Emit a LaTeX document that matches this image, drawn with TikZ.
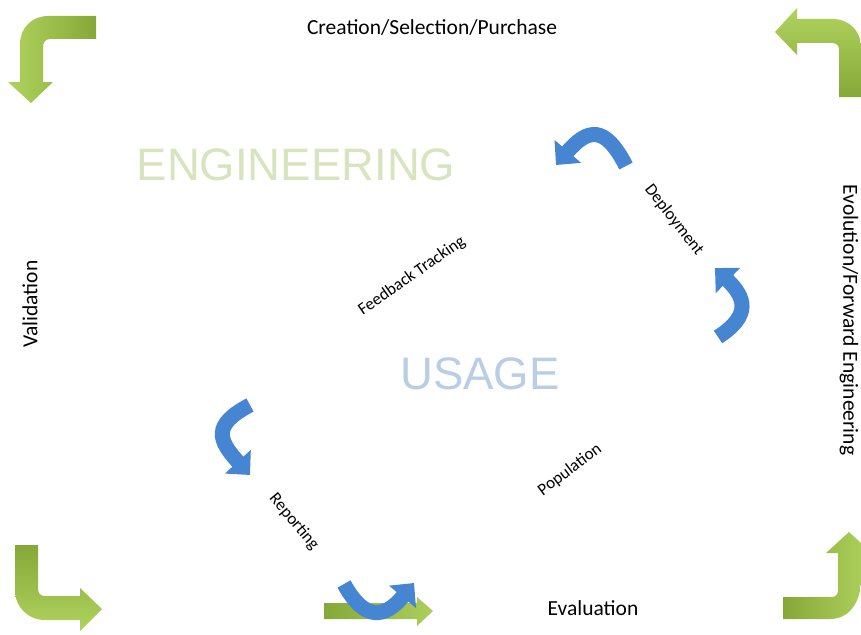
\documentclass[tikz,border=0pt]{standalone}
\usepackage{fontspec}
\setmainfont{Carlito}
\newfontfamily\bigfont{Liberation Sans}
\usetikzlibrary{arrows.meta}
\definecolor{glight}{HTML}{B0D35E}
\definecolor{gdark}{HTML}{86A838}
\definecolor{bluearr}{HTML}{4585D2}
\definecolor{engc}{HTML}{D7E4BD}
\definecolor{usec}{HTML}{B9CDE5}
\tikzset{
  lbl/.style={inner sep=0pt, font=\fontsize{21.5}{26}\selectfont, text=black},
  slbl/.style={inner sep=0pt, font=\fontsize{17}{20}\selectfont, text=black},
  big/.style={inner sep=0pt, font=\bigfont\fontsize{45.5}{52}\selectfont},
  barrow/.style={draw=bluearr, line width=15pt, line cap=butt,
    -{Triangle[width=34pt,length=18pt]}},
}
\begin{document}
\begin{tikzpicture}[x=1pt,y=-1pt]
\useasboundingbox (0,0) rectangle (861,634);
\clip (0,0) rectangle (861,634);
% green corner arrows
\path[left color=glight, right color=gdark]
  (96,16) -- (48,16) .. controls (32,16) and (20,28) .. (20,44) -- (20,82)
  -- (8,82) -- (31,103) -- (53,82) -- (43,82) -- (43,47)
  .. controls (43,43) and (45,39) .. (50,39) -- (96,39) -- cycle;
\path[top color=glight, bottom color=gdark]
  (775,32) -- (797,8) -- (797,19) -- (833,19)
  .. controls (849,19) and (861,31) .. (861,47) -- (861,97) -- (839,97)
  -- (839,50) .. controls (839,46) and (837,43) .. (832,43) -- (797,43)
  -- (797,55) -- cycle;
\path[top color=gdark, bottom color=glight]
  (15,545) -- (38,545) -- (38,588) .. controls (38,593) and (40,596) .. (45,596)
  -- (80,596) -- (80,588) -- (102,609) -- (80,631) -- (80,620) -- (45,620)
  .. controls (28,620) and (15,607) .. (15,590) -- cycle;
\path[left color=gdark, right color=glight]
  (783,597) -- (832,597) .. controls (836,597) and (838,594) .. (838,590)
  -- (838,553) -- (826,553) -- (849,532) -- (872,553) -- (861,553)
  -- (861,580) .. controls (861,601) and (850,619) .. (830,619) -- (783,619) -- cycle;
% bottom straight green arrow
\path[left color=gdark, right color=glight!90!gdark]
  (324,603) -- (417,603) -- (417,597) -- (433,611) -- (417,626) -- (417,619)
  -- (324,619) -- cycle;
% blue curved arrows
\draw[barrow] (626,166) .. controls (605,125) and (588,128) .. (556,165);
\draw[barrow] (718,337) .. controls (752,315) and (745,297) .. (715,268);
\draw[barrow] (250,405) .. controls (212,425) and (218,440) .. (250,475);
\draw[barrow] (344,584) .. controls (365,622) and (385,618) .. (414,583);
% big background words
\node[big, text=engc] (eng) at (296,165) {ENGINEERING};
\node[big, text=usec] (use) at (480,374) {USAGE};
% labels
\node[lbl] (creation) at (432,27) {Creation/Selection/Purchase};
\node[lbl, rotate=90] (valid) at (30,304) {Validation};
\node[lbl, rotate=-90] (evol) at (849,320) {Evolution/Forward Engineering};
\node[lbl] (eval) at (593,608) {Evaluation};
\node[slbl, rotate=35] (feed) at (412,276) {Feedback Tracking};
\node[slbl, rotate=-52] (deploy) at (674,220) {Deployment};
\node[slbl, rotate=37] (pop) at (570,470) {Population};
\node[slbl, rotate=-50] (report) at (294,522) {Reporting};
\end{tikzpicture}
\end{document}
